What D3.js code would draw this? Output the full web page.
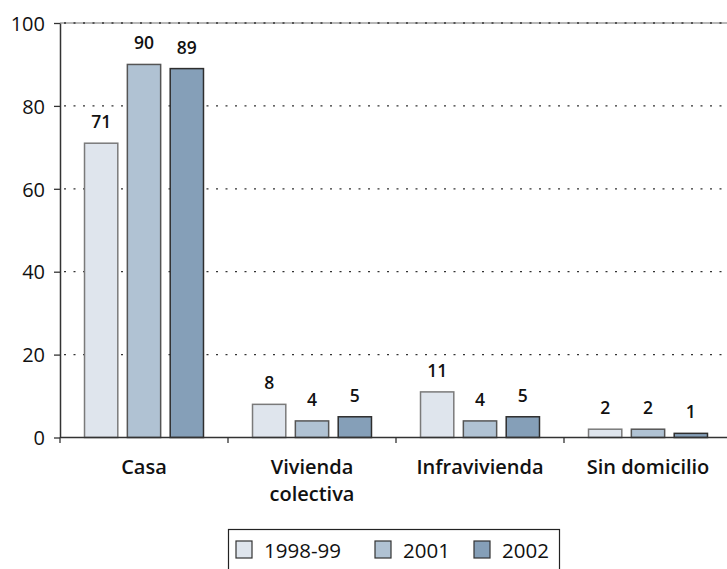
<!DOCTYPE html>
<html><head><meta charset="utf-8">
<script src="https://cdn.jsdelivr.net/npm/d3@7"></script>
<style>
body{margin:0;background:#fff;}
svg{display:block;font-family:"Open Sans",sans-serif;}
</style></head>
<body><svg id="c" width="727" height="569"></svg>
<script>
const categories = [["Casa"], ["Vivienda","colectiva"], ["Infravivienda"], ["Sin domicilio"]];
const categoryKeys = ["Casa", "Vivienda colectiva", "Infravivienda", "Sin domicilio"];
const seriesNames = ["1998-99", "2001", "2002"];
const values1998 = [71, 8, 11, 2];
const values2001 = [90, 4, 4, 2];
const values2002 = [89, 5, 5, 1];
const yTicks = [0, 20, 40, 60, 80, 100];
const fills = ["#dfe5ed", "#b0c2d3", "#859fb8"];
const strokes = ["#7a7a7a", "#555555", "#2e2e2e"];

const seriesValues = [values1998, values2001, values2002];
const svg = d3.select("#c");
const plotLeft = 60, plotRight = 732, plotTop = 23, plotBottom = 437.5;

const x0 = d3.scaleBand().domain(categoryKeys).range([plotLeft, plotRight]).padding(0);
const x1 = d3.scaleBand().domain(seriesNames).range([0, x0.bandwidth()]).paddingInner(0.223).paddingOuter(0.572);
const y = d3.scaleLinear().domain([0, 100]).range([plotBottom, plotTop]);

// top line (gray)
svg.append("line").attr("x1", plotLeft).attr("x2", 727).attr("y1", y(100)).attr("y2", y(100))
  .attr("stroke", "#a0a0a0").attr("stroke-width", 1.5);
// dotted gridlines
svg.append("g").selectAll("line").data(yTicks.filter(d => d > 0)).join("line")
  .attr("x1", plotLeft + 4).attr("x2", 727).attr("y1", d => y(d)).attr("y2", d => y(d))
  .attr("stroke", "#333").attr("stroke-width", 1.3).attr("stroke-dasharray", "2,7.5");

// bars
seriesNames.forEach((s, si) => {
  svg.append("g").selectAll("rect").data(categoryKeys).join("rect")
    .attr("x", (c) => x0(c) + x1(s))
    .attr("y", (c, i) => y(seriesValues[si][i]))
    .attr("width", x1.bandwidth())
    .attr("height", (c, i) => y(0) - y(seriesValues[si][i]))
    .attr("fill", fills[si]).attr("stroke", strokes[si]).attr("stroke-width", 1.5);
  svg.append("g").selectAll("text").data(categoryKeys).join("text")
    .attr("x", (c) => x0(c) + x1(s) + x1.bandwidth() / 2)
    .attr("y", (c, i) => y(seriesValues[si][i]) - 15)
    .attr("text-anchor", "middle").attr("font-size", 17.5).attr("font-weight", 600).attr("fill", "#111")
    .text((c, i) => seriesValues[si][i]);
});

// y axis
const yAxis = d3.axisLeft(y).tickValues(yTicks).tickSize(6).tickSizeOuter(0).tickPadding(9);
const gy = svg.append("g").attr("transform", `translate(${plotLeft},0)`).call(yAxis);
gy.select(".domain").attr("stroke", "#333").attr("stroke-width", 1.5);
gy.selectAll(".tick line").attr("stroke", "#333").attr("stroke-width", 1.3);
gy.selectAll(".tick text").attr("font-size", 20).attr("fill", "#111").attr("font-family", "Open Sans").attr("dy", "0.36em");

// x axis
svg.append("line").attr("x1", plotLeft).attr("x2", 727).attr("y1", plotBottom).attr("y2", plotBottom)
  .attr("stroke", "#333").attr("stroke-width", 1.5);
const boundaries = categoryKeys.map(c => x0(c)).concat([plotRight]);
svg.append("g").selectAll("line").data(boundaries).join("line")
  .attr("x1", d => d).attr("x2", d => d).attr("y1", plotBottom).attr("y2", plotBottom + 5.5)
  .attr("stroke", "#333").attr("stroke-width", 1.3);

// category labels
categoryKeys.forEach((c, i) => {
  const t = svg.append("text").attr("x", x0(c) + x0.bandwidth() / 2).attr("y", 474)
    .attr("text-anchor", "middle").attr("font-size", 20).attr("font-weight", 600).attr("fill", "#111");
  categories[i].forEach((line, li) => {
    t.append("tspan").attr("x", x0(c) + x0.bandwidth() / 2).attr("dy", li === 0 ? 0 : 27).text(line);
  });
});

// legend
const lg = svg.append("g");
lg.append("rect").attr("x", 228.5).attr("y", 529.5).attr("width", 331).attr("height", 50)
  .attr("fill", "#fff").attr("stroke", "#222").attr("stroke-width", 1.2);
const legendX = [236, 375, 474];
seriesNames.forEach((s, si) => {
  lg.append("rect").attr("x", legendX[si]).attr("y", 541).attr("width", 16).attr("height", 17)
    .attr("fill", fills[si]).attr("stroke", "#333").attr("stroke-width", 1.2);
  lg.append("text").attr("x", legendX[si] + 28).attr("y", 557.5).attr("font-size", 20.5).attr("fill", "#111").text(s);
});
</script></body></html>
